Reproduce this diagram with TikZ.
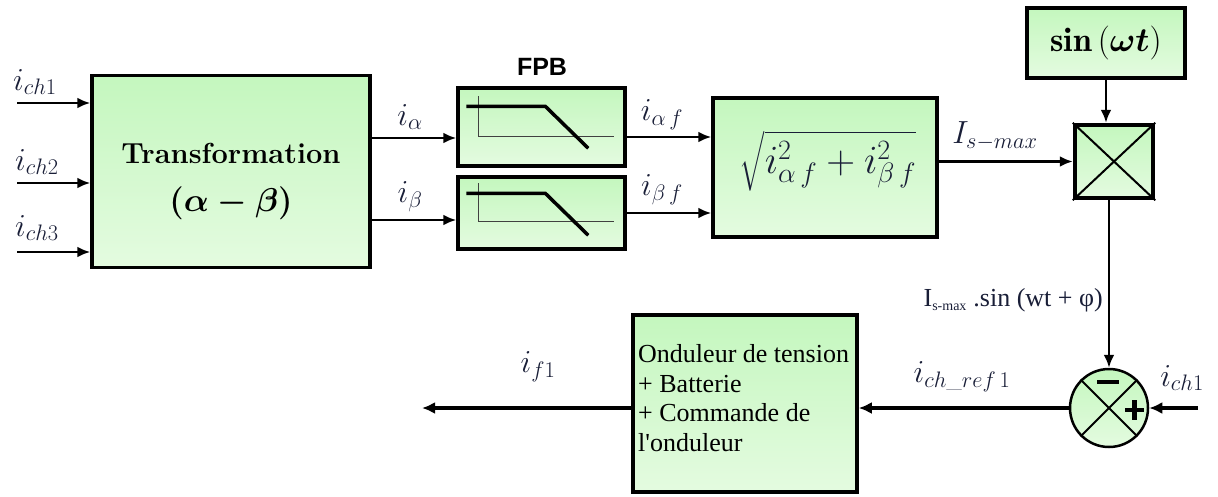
\RequirePackage{fix-cm}
\documentclass[tikz,border=0pt]{standalone}
\usepackage{fontspec}
\usepackage{amsmath}
\newfontfamily\timesf{Liberation Serif}
\newfontfamily\arialf{Liberation Sans}
\usetikzlibrary{arrows.meta,calc}
\definecolor{boxtop}{RGB}{196,247,190}
\definecolor{boxbot}{RGB}{228,251,224}
\definecolor{labc}{RGB}{25,30,55}
\newcommand{\transab}{$\boldsymbol{(\alpha-\beta)}$}
\newcommand{\sinwt}{$\mathbf{sin}\,(\boldsymbol{\omega t})$}
\begin{document}
\begin{tikzpicture}[x=1pt,y=-1pt,
  blk/.style={draw=black, line width=3.5pt, top color=boxtop, bottom color=boxbot, inner sep=0pt},
  arr/.style={line width=2.5pt, -{Latex[length=13pt,width=11pt]}},
  barr/.style={line width=3.2pt, -{Latex[length=13pt,width=12pt]}},
  lbl/.style={text=labc, inner sep=0pt, font=\fontsize{32}{36}\selectfont},
  axis/.style={line width=1.3pt, black!75},
  resp/.style={line width=3.5pt}]
\useasboundingbox (0,0) rectangle (1218,496);

% ---------- blocks ----------
\node[blk, minimum width=278pt, minimum height=192pt] (trans) at (231,171.5) {};
\node[inner sep=0pt, font=\fontsize{29}{32}\selectfont\bfseries] (transT) at (231,153) {Transformation};
\node[inner sep=0pt, font=\fontsize{33}{36}\selectfont] (transAB) at (231,203) {\transab};

\node[blk, minimum width=167pt, minimum height=78pt] (f1) at (541.5,127) {};
\node[blk, minimum width=167pt, minimum height=72pt] (f2) at (541.5,213) {};
\node[inner sep=0pt, font=\arialf\bfseries\fontsize{25}{28}\selectfont] (fpbT) at (542,67) {FPB};
\begin{scope}[shift={(f1.north west)}]
  \draw[axis] (22,10) -- (22,50) -- (158,50);
  \draw[resp] (10,20) -- (89,20) -- (132,62);
\end{scope}
\begin{scope}[shift={(f2.north west)}]
  \draw[axis] (22,8) -- (22,46) -- (158,46);
  \draw[resp] (10,18) -- (89,18) -- (132,60);
\end{scope}

\node[blk, minimum width=224pt, minimum height=139pt] (sq) at (825,167.5) {};
\node[inner sep=0pt, text=labc, font=\fontsize{40}{44}\selectfont] (sqT) at (828,161)
  {$\displaystyle\sqrt{i_{\alpha\,f}^{2}+i_{\beta\,f}^{2}}$};

\node[blk, line width=4.5pt, minimum width=78pt, minimum height=73pt] (mul) at (1114,161.5) {};
\draw[line width=2pt] (mul.north west) -- (mul.south east) (mul.north east) -- (mul.south west);

\node[blk, minimum width=158pt, minimum height=70pt, font=\fontsize{34}{38}\selectfont] (sinb) at (1106,43) {\sinwt};

\node[circle, draw=black, line width=2.5pt, top color=boxtop, bottom color=boxbot, minimum size=78pt, inner sep=0pt] (sum) at (1109,408) {};
\draw[line width=2pt] (sum.north west) -- (sum.south east) (sum.north east) -- (sum.south west);
\draw[line width=4.5pt] ($(sum.center)+(-12,-26)$) -- ($(sum.center)+(10,-26)$);
\draw[line width=4.5pt] ($(sum.center)+(16,2)$) -- ($(sum.center)+(35,2)$)
                        ($(sum.center)+(25.5,-8)$) -- ($(sum.center)+(25.5,12)$);

\node[blk, minimum width=224pt, minimum height=177pt] (ond) at (745,403.5) {};
\node[anchor=west, align=left, inner sep=0pt, font=\timesf\fontsize{26}{29.5}\selectfont] (ondT) at (638,398)
  {Onduleur de tension\\+ Batterie\\+ Commande de\\l'onduleur};

% ---------- connectors ----------
\coordinate (in1) at (17,103);
\coordinate (in2) at (17,183);
\coordinate (in3) at (17,252);
\draw[arr] (in1) -- (in1 -| trans.west);
\draw[arr] (in2) -- (in2 -| trans.west);
\draw[arr] (in3) -- (in3 -| trans.west);

\coordinate (ya) at (0,138);
\coordinate (yb) at (0,220);
\coordinate (yc) at (0,137);
\coordinate (yd) at (0,213);
\draw[arr] (trans.east |- ya) -- (f1.west |- ya);
\draw[arr] (trans.east |- yb) -- (f2.west |- yb);
\draw[arr] (f1.east |- yc) -- (sq.west |- yc);
\draw[arr] (f2.east |- yd) -- (sq.west |- yd);
\draw[arr] (sq.east |- mul.west) -- (mul.west);
\draw[arr] (sinb.south) -- (sinb.south |- mul.north);
\draw[arr] (mul.south -| sum.north) -- (sum.north);

\coordinate (outL) at (422,408);
\coordinate (inR) at (1198,408);
\draw[barr] (sum.west) -- (sum.west -| ond.east);
\draw[barr] (outL -| ond.west) -- (outL);
\draw[barr] (inR) -- (sum.east);

% ---------- labels ----------
\node[lbl] (lch1) at (35,82) {$i_{ch1}$};
\node[lbl] (lch2) at (37,162) {$i_{ch2}$};
\node[lbl] (lch3) at (37,228) {$i_{ch3}$};
\node[lbl] (lal) at (410,117) {$i_{\alpha}$};
\node[lbl] (lbe) at (410,197) {$i_{\beta}$};
\node[lbl] (lalf) at (662,115) {$i_{\alpha\,f}$};
\node[lbl] (lbef) at (662,190) {$i_{\beta\,f}$};
\node[lbl] (lism) at (995,136) {$I_{s-max}$};
\node[lbl] (lf1) at (538,367) {$i_{f1}$};
\node[lbl] (lref) at (962,377) {$i_{ch\_ref\,1}$};
\node[lbl] (lch1b) at (1182,378) {$i_{ch1}$};
\node[anchor=east, inner sep=0pt, text=labc, font=\timesf\fontsize{26}{30}\selectfont] (lsin) at (1103,300)
  {I\textsubscript{\fontsize{14}{15}\selectfont s-max} .sin (wt + φ)};
\end{tikzpicture}
\end{document}
